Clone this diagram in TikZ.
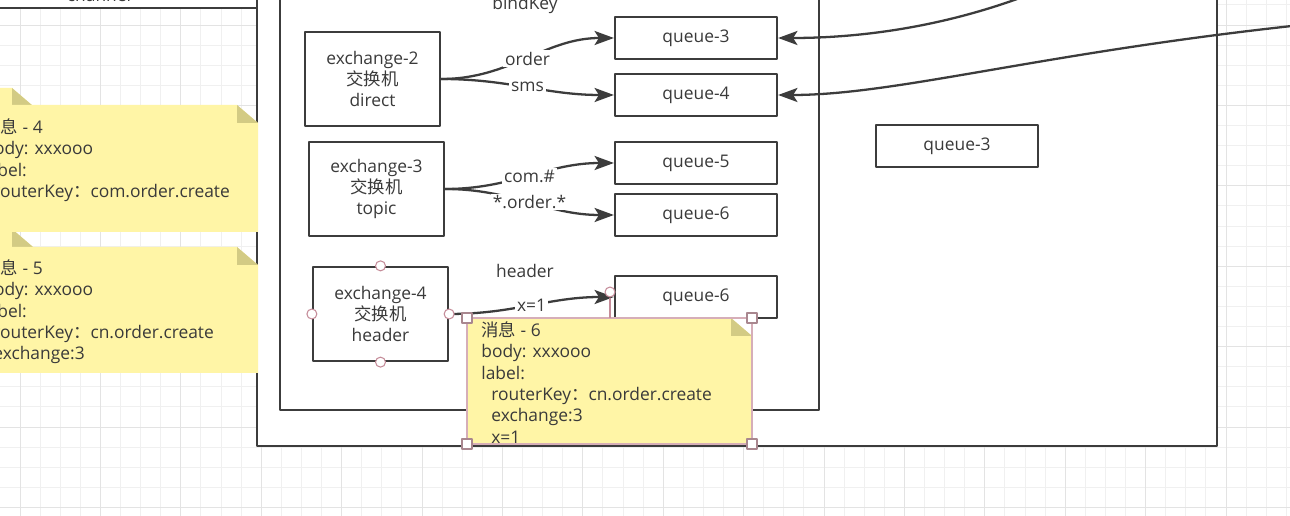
\documentclass[tikz,border=0pt]{standalone}
\usepackage{fontspec}
\setmainfont{Open Sans}
\newfontfamily\cjk{Noto Sans CJK SC}
\usetikzlibrary{arrows.meta}
\definecolor{ink}{HTML}{3A3A3A}
\definecolor{edge}{HTML}{3C3C3C}
\definecolor{notefill}{HTML}{FFF5A6}
\definecolor{notefold}{HTML}{D3CB84}
\definecolor{gridminor}{HTML}{F0F0F0}
\definecolor{gridmajor}{HTML}{E3E3E3}
\definecolor{pick}{HTML}{C58C99}
\newcommand{\fsize}{\fontsize{9.9}{12.2}\selectfont}
\tikzset{
 box/.style={draw=edge,line width=1.3pt,fill=white,text=ink,align=center,font=\fsize},
 exch/.style={box,minimum width=2.7cm,minimum height=1.88cm},
 queue/.style={box,minimum width=3.24cm,minimum height=0.84cm},
 lbl/.style={fill=white,inner sep=1pt,text=ink,font=\fsize},
 txt/.style={text=ink,font=\fsize,inner sep=0pt},
 notetxt/.style={text=ink,font=\fsize,align=left,anchor=north west,inner sep=0pt},
 handle/.style={circle,draw=pick,fill=white,line width=0.6pt,minimum size=0.2cm,inner sep=0pt},
 grip/.style={draw=pick!60!gray,fill=white,line width=0.6pt,minimum size=0.2cm,inner sep=0pt},
 wire/.style={draw=edge,line width=1.3pt}
}
\begin{document}
\begin{tikzpicture}[x=0.02cm,y=-0.02cm,line join=round,>={Stealth[length=11pt,width=8pt,inset=2.5pt]}]
 \def\note#1#2#3#4{\fill[notefill] (#1,#2)--({#3-21},#2)--(#3,{#2+18})--(#3,#4)--(#1,#4)--cycle;
  \fill[notefold] ({#3-21},#2)--({#3-21},{#2+18})--(#3,{#2+18})--cycle;}
 \useasboundingbox (0,0) rectangle (1290,516);
 \fill[white] (0,0) rectangle (1290,516);
 \foreach \i in {-1,...,63} \draw[gridminor,line width=0.5pt] ({20+20.1*\i},0)--++(0,516);
 \foreach \j in {-2,...,25} \draw[gridminor,line width=0.5pt] (0,{25+20.1*\j})--++(1290,0);
 \foreach \i in {0,...,16} \draw[gridmajor,line width=0.5pt] ({20+80.4*\i},0)--++(0,516);
 \foreach \j in {0,...,6} \draw[gridmajor,line width=0.5pt] (0,{25+80.4*\j})--++(1290,0);

 \filldraw[fill=white,draw=edge,line width=1.3pt] (-20,-20) rectangle (257,8);
 \node[txt,anchor=base] (chan) at (99,2) {channel};
 \filldraw[fill=white,draw=edge,line width=1.3pt] (257,-20) rectangle (1217,446);
 \filldraw[fill=white,draw=edge,line width=1.3pt] (280,-20) rectangle (819,410);

 \note{-40}{88}{33}{220}
 \note{-40}{229}{33}{360}
 \note{-60}{105}{258}{232}
 \note{-60}{247}{258}{373}
 \node[notetxt] (msg4) at (-17,118) {{\cjk 消息} - 4\\body: xxxooo\\label:\\\hspace*{0.2cm}routerKey{\cjk ：}com.order.create};
 \node[notetxt] (msg5) at (-17,259) {{\cjk 消息} - 5\\body: xxxooo\\label:\\\hspace*{0.2cm}routerKey{\cjk ：}cn.order.create\\\hspace*{0.2cm}exchange:3};

 \node[txt] (bind) at (525,5) {bindKey};
 \node[txt] (hdr) at (525,271) {header};
 \node[exch] (ex2) at (372.5,79) {exchange-2\\{\cjk 交换机}\\direct};
 \node[exch] (ex3) at (376.5,189) {exchange-3\\{\cjk 交换机}\\topic};
 \node[exch] (ex4) at (380.5,314) {exchange-4\\{\cjk 交换机}\\header};
 \node[queue] (q3) at (696,38) {queue-3};
 \node[queue] (q4) at (696,95) {queue-4};
 \node[queue] (q5) at (696,163) {queue-5};
 \node[queue] (q6) at (696,215) {queue-6};
 \node[queue] (q6b) at (696,297) {queue-6};
 \node[queue] (q3b) at (957,146) {queue-3};

 \draw[wire,->] (ex2.east) to[out=0,in=180] node[lbl] (korder) {order} (q3.west);
 \draw[wire,->] (ex2.east) to[out=0,in=180] node[lbl] (ksms) {sms} (q4.west);
 \draw[wire,->] (ex3.east) to[out=0,in=180] node[lbl] (kcom) {com.\#} (q5.west);
 \draw[wire,->] (ex3.east) to[out=0,in=180] node[lbl] (kord) {*.order.*} (q6.west);
 \draw[wire,->] (ex4.east) to[out=0,in=180] node[lbl] (kx) {x=1} (q6b.west);
 \coordinate (src3) at (1075,-25);
 \coordinate (src4) at (1330,22);
 \draw[wire,->] (src3) .. controls (980,20) and (880,38) .. (q3.east);
 \draw[wire,->] (src4) .. controls (1050,50) and (900,95) .. (q4.east);

 \note{467}{318}{752}{444}
 \draw[pick!70,line width=0.6pt] (467,318) rectangle (752,444);
 \node[notetxt] (msg6) at (481,321) {{\cjk 消息} - 6\\body: xxxooo\\label:\\\hspace*{0.2cm}routerKey{\cjk ：}cn.order.create\\\hspace*{0.2cm}exchange:3\\\hspace*{0.2cm}x=1};

 \foreach \a in {north,south,east,west} \node[handle] (hd\a) at (ex4.\a) {};
 \node[handle] (hq) at (610,292) {};
 \coordinate (gq) at (610,318);
 \draw[pick,line width=0.6pt] (hq.south) -- (gq);
 \node[grip] (g1) at (467,318) {};
 \node[grip] (g2) at (752,318) {};
 \node[grip] (g3) at (467,444) {};
 \node[grip] (g4) at (752,444) {};
\end{tikzpicture}
\end{document}
